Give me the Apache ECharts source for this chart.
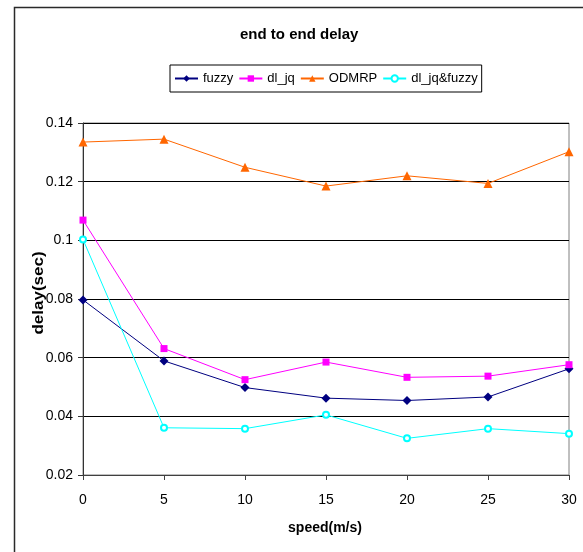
<!DOCTYPE html>
<html>
<head>
<meta charset="utf-8">
<script src="https://cdn.jsdelivr.net/npm/echarts@6/dist/echarts.min.js"></script>
<style>
html,body{margin:0;padding:0;background:#fff;}
#chart{width:583px;height:552px;}
</style>
</head>
<body>
<div id="chart"></div>
<script>
const speeds = [0, 5, 10, 15, 20, 25, 30];
const fuzzy = [0.0797, 0.0589, 0.0498, 0.0462, 0.0454, 0.0466, 0.0562];
const dlJq = [0.1069, 0.0631, 0.0525, 0.0585, 0.0533, 0.0537, 0.0576];
const odmrp = [0.1335, 0.1345, 0.1249, 0.1185, 0.1220, 0.1194, 0.1302];
const dlJqFuzzy = [0.1003, 0.0361, 0.0358, 0.0405, 0.0325, 0.0358, 0.0341];
const seriesNames = ['fuzzy', 'dl_jq', 'ODMRP', 'dl_jq&fuzzy'];
const titleText = 'end to end delay';
const xName = 'speed(m/s)';
const yName = 'delay(sec)';

const FONT = '"Liberation Sans", Arial, sans-serif';
function pairs(arr){ return speeds.map((s,i)=>[s, arr[i]]); }

const chart = echarts.init(document.getElementById('chart'), null, {renderer:'canvas'});
chart.setOption({
  animation: false,
  backgroundColor: '#fff',
  title: {
    text: titleText, left: 240, top: 27, padding: 0,
    textStyle: {fontFamily: FONT, fontSize: 15, fontWeight: 'bold', color: '#000'}
  },
  legend: {
    left: 170, top: 65,
    padding: [7, 4, 7, 4],
    borderColor: '#000', borderWidth: 1,
    itemWidth: 23, itemHeight: 8, itemGap: 5,
    textStyle: {fontFamily: FONT, fontSize: 13, color: '#000'},
    data: seriesNames
  },
  grid: {
    left: 83, right: 14, top: 123, bottom: 77,
    show: true, borderColor: '#808080', borderWidth: 1, backgroundColor: 'transparent'
  },
  xAxis: {
    type: 'value', min: 0, max: 30, interval: 5,
    axisLine: {show: true, lineStyle: {color: '#404040', width: 1}},
    axisTick: {show: true, length: 5, lineStyle: {color: '#404040'}},
    axisLabel: {margin: 18, fontFamily: FONT, fontSize: 14, color: '#000'},
    splitLine: {show: false}
  },
  yAxis: {
    type: 'value', min: 0.02, max: 0.14, interval: 0.02,
    axisLine: {show: true, lineStyle: {color: '#333', width: 1}},
    axisTick: {show: true, length: 5, lineStyle: {color: '#333'}},
    axisLabel: {margin: 10, fontFamily: FONT, fontSize: 14, color: '#000',
      formatter: v => String(parseFloat(v.toFixed(2)))},
    splitLine: {show: true, lineStyle: {color: '#000', width: 1}}
  },
  graphic: [
    {type: 'rect', left: 12, top: 5, z: 100, silent: true,
      shape: {x: 0, y: 0, width: 620, height: 600},
      style: {fill: 'none', stroke: '#2a2a2a', lineWidth: 1.5}},
    {type: 'text', x: 325, y: 528, silent: true,
      style: {text: xName, font: 'bold 14px ' + FONT, fill: '#000', textAlign: 'center', textVerticalAlign: 'middle'}},
    {type: 'text', x: 39, y: 293, rotation: Math.PI/2, scaleY: 0.82, silent: true,
      style: {text: yName, font: 'bold 17px ' + FONT, fill: '#000', textAlign: 'center', textVerticalAlign: 'middle'}}
  ],
  series: [
    {name: seriesNames[0], type: 'line', data: pairs(fuzzy), symbol: 'diamond', symbolSize: 9,
      itemStyle: {color: '#000080'}, lineStyle: {color: '#000080', width: 1}},
    {name: seriesNames[1], type: 'line', data: pairs(dlJq), symbol: 'rect', symbolSize: 7,
      itemStyle: {color: '#FF00FF'}, lineStyle: {color: '#FF00FF', width: 1}},
    {name: seriesNames[2], type: 'line', data: pairs(odmrp), symbol: 'triangle', symbolSize: 9,
      itemStyle: {color: '#FF6600'}, lineStyle: {color: '#FF6600', width: 1}},
    {name: seriesNames[3], type: 'line', data: pairs(dlJqFuzzy), symbol: 'emptyCircle', symbolSize: 6,
      itemStyle: {color: '#00FFFF', borderColor: '#00FFFF', borderWidth: 1}, lineStyle: {color: '#00FFFF', width: 1}}
  ]
});
</script>
</body>
</html>
